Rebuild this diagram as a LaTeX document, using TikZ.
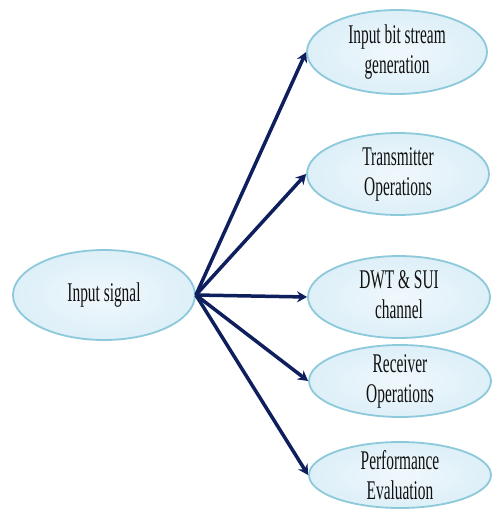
\documentclass[tikz,border=0pt]{standalone}
\usepackage{fontspec}
\setmainfont{Liberation Serif}
\usetikzlibrary{shapes.geometric,arrows.meta}
\definecolor{arrowblue}{HTML}{0F1F5E}
\definecolor{ellfill}{HTML}{E6F3FA}
\definecolor{ellmid}{HTML}{DDEFF8}
\definecolor{ellborder}{HTML}{8CC9DA}
\definecolor{txtcol}{HTML}{111111}
\newcommand{\lbl}[1]{\scalebox{0.57}[1]{\begin{tabular}{@{}c@{}}#1\end{tabular}}}
\tikzset{
  ell/.style={ellipse, inner sep=0pt, draw=ellborder, line width=1.8pt,
    inner color=ellfill!60!white, outer color=ellmid},
  txt/.style={inner sep=0pt, text=txtcol, font=\fontsize{27}{30}\selectfont},
  arr/.style={draw=arrowblue, line width=3.5pt,
    -{Stealth[length=10pt,width=11pt]}}
}
\begin{document}
\begin{tikzpicture}[x=1pt,y=-1pt]
\useasboundingbox[fill=white] (0,0) rectangle (491,509);
\node[ell, minimum width=182pt, minimum height=90pt] (in) at (104,295) {};
\node[txt] (intxt) at (in) {\lbl{Input signal}};
\node[ell, minimum width=180pt, minimum height=84pt] (t1) at (397,52) {};
\node[txt] (t1txt) at (t1) {\lbl{Input bit stream\\generation}};
\node[ell, minimum width=182pt, minimum height=82pt] (t2) at (398,174) {};
\node[txt] (t2txt) at (t2) {\lbl{Transmitter\\Operations}};
\node[ell, minimum width=182pt, minimum height=82pt] (t3) at (399,297) {};
\node[txt] (t3txt) at (t3) {\lbl{DWT \& SUI\\channel}};
\node[ell, minimum width=182pt, minimum height=72pt] (t4) at (400,381) {};
\node[txt] (t4txt) at (t4) {\lbl{Receiver\\Operations}};
\node[ell, minimum width=182pt, minimum height=66pt] (t5) at (400,475) {};
\node[txt] (t5txt) at ([yshift=-3pt]t5.center) {\lbl{Performance\\Evaluation}};
\foreach \t in {t1,t2,t3,t4,t5}
  \draw[arr] (in.east) -- (\t.west);
\end{tikzpicture}
\end{document}
